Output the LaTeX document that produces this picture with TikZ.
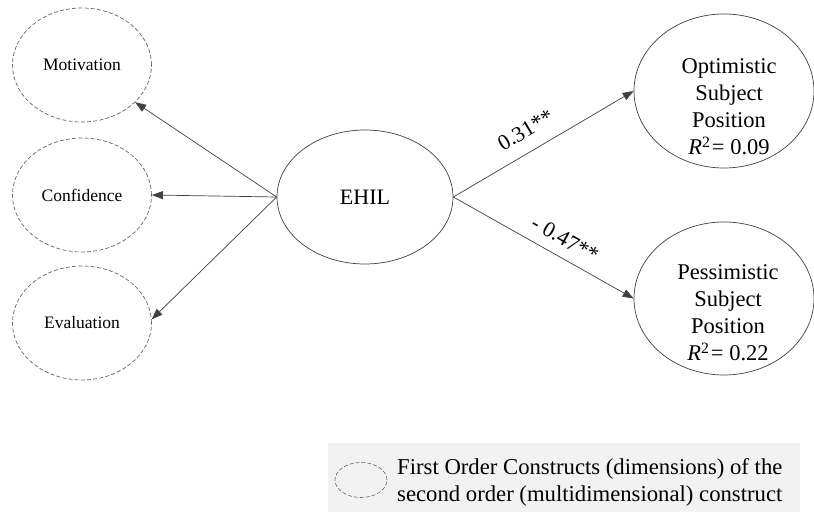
\documentclass[tikz,border=0pt]{standalone}
\usepackage{fontspec}
\setmainfont{Liberation Serif}
\usetikzlibrary{shapes.geometric,arrows.meta}
\definecolor{legbg}{HTML}{F2F2F2}
\definecolor{edge}{HTML}{404040}
\tikzset{
  dimnode/.style={ellipse,draw=edge!80,dash pattern=on 4pt off 2.2pt,line width=0.7pt,inner sep=0pt,minimum width=139pt,minimum height=114pt,font=\fontsize{17.5}{20}\selectfont},
  solidnode/.style={ellipse,draw=edge,line width=0.7pt,inner sep=0pt,align=center},
  inner/.style={align=center,inner sep=0pt,font=\fontsize{22.5}{27}\selectfont},
  conn/.style={draw=edge,line width=0.7pt,-{Triangle[length=11pt,width=8pt]}},
  lab/.style={font=\fontsize{22}{25}\selectfont,sloped}
}
\begin{document}
\begin{tikzpicture}[x=1pt,y=-1pt]
\useasboundingbox (0,0) rectangle (814,513);
\node[dimnode] (mot) at (82,65) {Motivation};
\node[dimnode] (con) at (82,195) {Confidence};
\node[dimnode] (eva) at (82,323) {Evaluation};
\node[solidnode,minimum width=176pt,minimum height=134pt,font=\fontsize{22}{26}\selectfont] (ehil) at (365,197) {EHIL};
\node[solidnode,minimum width=180pt,minimum height=154pt] (opt) at (724,91) {};
\node[inner] (optt) at (729,107) {Optimistic\\Subject\\Position\\\textit{R}\textsuperscript{2}\kern1.5pt= 0.09};
\node[solidnode,minimum width=180pt,minimum height=153pt] (pes) at (724,298.5) {};
\node[inner] (pest) at (728,313) {Pessimistic\\Subject\\Position\\\textit{R}\textsuperscript{2}\kern1.5pt= 0.22};
\draw[conn] (ehil.west) -- (mot.-35);
\draw[conn] (ehil.west) -- (con.east);
\draw[conn] (ehil.west) -- (eva.3);
\draw[conn] (ehil.east) -- node[lab,pos=0.46,above=10pt] (l1) {0.31**} (opt.west);
\draw[conn] (ehil.east) -- node[lab,pos=0.57,above=7pt] (l2) {- 0.47**} (pes.west);
\node[fill=legbg,minimum width=472pt,minimum height=69pt,inner sep=0pt] (legbox) at (564,477.5) {};
\node[ellipse,draw=edge!80,dash pattern=on 4pt off 2pt,line width=0.6pt,minimum width=52pt,minimum height=35pt,inner sep=0pt] (legell) at (361,480) {};
\node[anchor=west,align=left,inner sep=0pt,font=\fontsize{22.7}{27}\selectfont] (legtxt) at (397,482) {First Order Constructs (dimensions) of the\\second order (multidimensional) construct};
\end{tikzpicture}
\end{document}
